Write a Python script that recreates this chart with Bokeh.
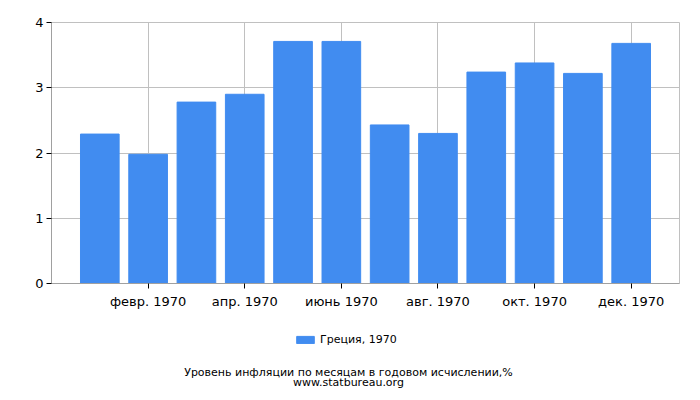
from bokeh.plotting import figure
from bokeh.layouts import column
from bokeh.models import ColumnDataSource, FixedTicker, Legend, LegendItem, Label, Range1d
from bokeh.embed import file_html
from bokeh.resources import INLINE

months = list(range(1, 13))
values = [2.29, 1.98, 2.78, 2.90, 3.71, 3.71, 2.43, 2.30, 3.24, 3.38, 3.22, 3.68]
tick_pos = [2, 4, 6, 8, 10, 12]
tick_labels = ["февр. 1970", "апр. 1970", "июнь 1970", "авг. 1970", "окт. 1970", "дек. 1970"]
y_ticks = [0, 1, 2, 3, 4]
series_name = "Греция, 1970"
title1 = "Уровень инфляции по месяцам в годовом исчислении,%"
title2 = "www.statbureau.org"

FONT = "DejaVu Sans"
GRID = "#c0c0c0"
BAR = "#418cf0"

src = ColumnDataSource(dict(x=months, top=values))

p = figure(width=700, height=315, output_backend="svg", toolbar_location=None,
           x_range=Range1d(0, 13), y_range=Range1d(0, 4),
           min_border_left=51, min_border_top=22, min_border_right=21,
           min_border_bottom=32)
p.outline_line_color = GRID
p.background_fill_color = "white"

p.vbar(x="x", top="top", width=0.8, source=src, color=BAR)

p.xaxis.ticker = FixedTicker(ticks=tick_pos)
p.xaxis.major_label_overrides = {t: l for t, l in zip(tick_pos, tick_labels)}
p.yaxis.ticker = FixedTicker(ticks=y_ticks)
for ax in (p.xaxis[0], p.yaxis[0]):
    ax.axis_line_color = "#a0a0a0"
    ax.major_tick_line_color = "black"
    ax.major_tick_out = 5
    ax.major_tick_in = 0
    ax.minor_tick_line_color = None
    ax.major_label_text_font = FONT
    ax.major_label_text_font_size = "13px"
    ax.major_label_text_color = "black"
p.xaxis.major_label_standoff = 5
p.yaxis.major_label_standoff = 3

p.xgrid.ticker = FixedTicker(ticks=tick_pos)
p.xgrid.grid_line_color = GRID
p.ygrid.grid_line_color = GRID

# lower panel: legend and captions
H2 = 85
p2 = figure(width=700, height=H2, output_backend="svg", toolbar_location=None,
            x_range=Range1d(0, 700), y_range=Range1d(0, H2),
            x_axis_location=None, y_axis_location=None,
            min_border=0, outline_line_color=None)
p2.grid.visible = False
swatch = p2.vbar(x="x", top="top", width=0.8, source=src, color=BAR, visible=False)

legend = Legend(items=[LegendItem(label=series_name, renderers=[swatch])],
                orientation="horizontal", location=(243, 54),
                border_line_alpha=0, background_fill_alpha=0,
                inactive_fill_alpha=0,
                glyph_width=22, glyph_height=9, label_standoff=4,
                label_text_font=FONT, label_text_font_size="11px",
                label_text_color="black",
                label_height=9, margin=0, padding=0)
p2.add_layout(legend, "center")

p2.add_layout(Label(x=297, y=H2 - 56.5, x_units="screen", text=title1,
                    text_align="center", text_baseline="middle", text_font=FONT,
                    text_font_size="11px", text_color="black"))
p2.add_layout(Label(x=297, y=H2 - 67, x_units="screen", text=title2,
                    text_align="center", text_baseline="middle", text_font=FONT,
                    text_font_size="11px", text_color="black"))

open("out.html", "w").write(file_html(column(p, p2, spacing=0), INLINE))
